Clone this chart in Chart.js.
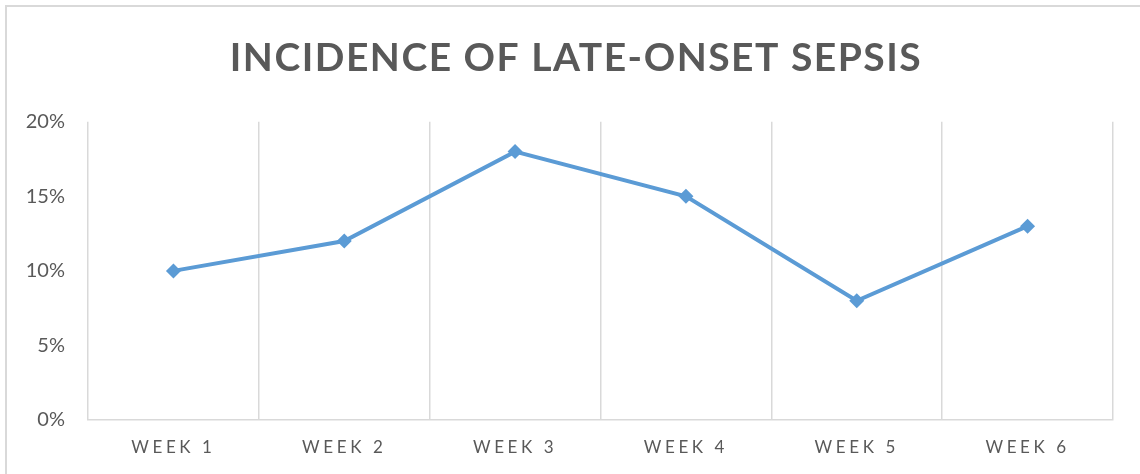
<!DOCTYPE html>
<html>
<head>
<meta charset="utf-8">
<script src="https://cdn.jsdelivr.net/npm/chart.js@4.4.1/dist/chart.umd.min.js"></script>
<style>
html,body{margin:0;padding:0;background:#fff;}
#wrap{position:relative;width:1140px;height:474px;overflow:hidden;}
#frame{position:absolute;left:5px;top:5px;width:1200px;height:600px;border-left:2px solid #d9d9d9;border-top:2px solid #d9d9d9;}
#c{position:absolute;left:0;top:0;}
</style>
</head>
<body>
<div id="wrap"><div id="frame"></div><canvas id="c" width="1152" height="474"></canvas></div>
<script>
const titleText = 'INCIDENCE OF LATE-ONSET SEPSIS';
const categories = ['WEEK 1','WEEK 2','WEEK 3','WEEK 4','WEEK 5','WEEK 6'];
const incidence = [10, 12, 18, 15, 8, 13];
const yTicks = [0, 5, 10, 15, 20];

const spacingPlugin = {
  id: 'spacing',
  afterLayout(chart) {
    const ctx = chart.ctx;
    const wrap = (obj, name, sp) => {
      if (!obj || obj['_w_' + name]) return;
      const orig = obj[name];
      obj[name] = function(a) { ctx.save(); ctx.letterSpacing = sp; orig.call(this, a); ctx.restore(); };
      obj['_w_' + name] = true;
    };
    wrap(chart.titleBlock, 'draw', '1.5px');
    wrap(chart.scales.x, 'drawLabels', '3.6px');
    // let the y labels extend left of the scale box without clipping
    chart.scales.y._computeLabelArea = function() { return undefined; };
  }
};

new Chart(document.getElementById('c'), {
  type: 'line',
  data: {
    labels: categories,
    datasets: [{
      data: incidence,
      borderColor: '#5b9bd5',
      backgroundColor: '#5b9bd5',
      borderWidth: 4,
      pointStyle: 'rectRot',
      pointRadius: 7.5,
      pointHoverRadius: 7.5,
      pointBorderWidth: 0,
      tension: 0
    }]
  },
  options: {
    responsive: false,
    animation: false,
    events: [],
    layout: { padding: { left: 39, right: 39, top: 0, bottom: 0 } },
    plugins: {
      legend: { display: false },
      tooltip: { enabled: false },
      title: {
        display: true,
        text: titleText,
        color: '#595959',
        font: { family: 'Lato', size: 39, weight: 'bold', lineHeight: 1.2 },
        padding: { top: 35, bottom: 40 }
      }
    },
    scales: {
      x: {
        offset: true,
        grid: { display: true, offset: true, color: '#d9d9d9', lineWidth: 1.5, drawTicks: false },
        border: { display: true, color: '#d9d9d9', width: 1.5 },
        ticks: { color: '#595959', font: { family: 'Lato', size: 17 }, padding: 17, maxRotation: 0 },
        afterFit(s) { s.height = 54; }
      },
      y: {
        min: 0, max: 20,
        afterBuildTicks(s) { s.ticks = yTicks.map(v => ({ value: v })); },
        grid: { display: false, drawTicks: false },
        border: { display: false },
        ticks: { color: '#595959', font: { family: 'Lato', size: 20 }, padding: 23, callback: v => v + '%' },
        afterFit(s) { s.width = 49; }
      }
    }
  },
  plugins: [spacingPlugin]
});
</script>
</body>
</html>
